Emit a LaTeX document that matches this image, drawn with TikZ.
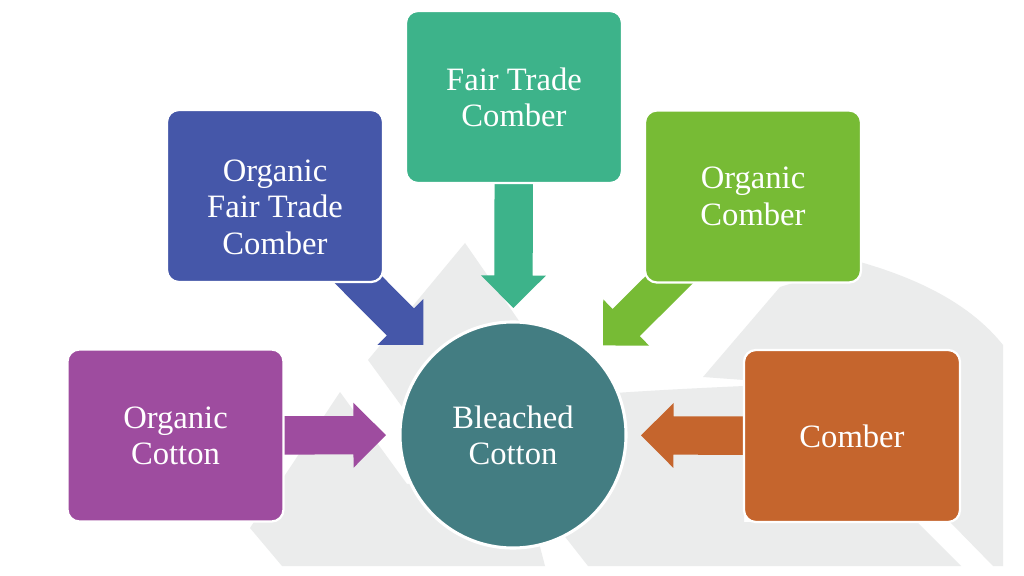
\documentclass[tikz,border=0pt]{standalone}
\usepackage{fontspec}
\setmainfont{Liberation Serif}
\usetikzlibrary{calc}
\pgfdeclarelayer{greylayer}
\pgfdeclarelayer{arrowlayer}
\pgfsetlayers{greylayer,arrowlayer,main}
\definecolor{cblue}{HTML}{4557A9}
\definecolor{cteal}{HTML}{3DB38A}
\definecolor{cgreen}{HTML}{77BB35}
\definecolor{cpurple}{HTML}{9E4C9F}
\definecolor{corange}{HTML}{C5652D}
\definecolor{chub}{HTML}{437D82}
\definecolor{bgrey}{HTML}{EBECEC}
\newcommand{\blockarrow}[3]{%
  \coordinate (ah) at ($(#3)!0.8125cm!(#2)$);
  \fill[#1] ($(#2)!0.48cm!90:(#3)$) -- ($(ah)!0.48cm!-90:(#2)$) -- ($(ah)!0.8125cm!-90:(#2)$) -- (#3)
    -- ($(ah)!0.8125cm!90:(#2)$) -- ($(ah)!0.48cm!90:(#2)$) -- ($(#2)!0.48cm!-90:(#3)$) -- cycle;}
\begin{document}
\begin{tikzpicture}[x=0.025cm,y=-0.025cm,
  box/.style={rectangle, rounded corners=0.3cm, draw=white, line width=1.6pt, text=white,
    align=center, minimum width=5.4cm, minimum height=4.3cm, inner sep=0pt,
    font=\fontsize{23.2}{25.8}\selectfont},
  hub/.style={circle, draw=white, line width=2.2pt, text=white, fill=chub, align=center,
    minimum size=5.65cm, inner sep=0pt, font=\fontsize{23.2}{25.8}\selectfont}]
\useasboundingbox (0,0) rectangle (1024,576);

\node[hub] (hub) at (513,435) {Bleached\\Cotton};
\node[box, fill=cblue] (ofc) at (275,196) {\rule{0pt}{1.1cm}Organic\\Fair Trade\\Comber};
\node[box, fill=cteal] (ftc) at (514,97) {Fair Trade\\Comber};
\node[box, fill=cgreen] (oc) at (753,196.5) {Organic\\Comber};
\node[box, fill=cpurple] (ocot) at (175.5,435.5) {Organic\\Cotton};
\node[box, fill=corange] (comb) at (852,436) {Comber};

\coordinate (t1) at ($(hub.center)!3.175cm!(ofc.center)$);
\coordinate (t2) at ($(hub.center)!3.175cm!(ftc.center)$);
\coordinate (t3) at ($(hub.center)!3.175cm!(oc.center)$);
\coordinate (t4) at ($(hub.center)!3.175cm!(ocot.center)$);
\coordinate (t5) at ($(hub.center)!3.2cm!(comb.center)$);

\begin{pgfonlayer}{arrowlayer}
\blockarrow{cblue}{ofc.center}{t1}
\blockarrow{cteal}{ftc.center}{t2}
\blockarrow{cgreen}{oc.center}{t3}
\blockarrow{cpurple}{ocot.center}{t4}
\blockarrow{corange}{comb.center}{t5}
\end{pgfonlayer}

\begin{pgfonlayer}{greylayer}
\fill[white] (0,0) rectangle (1024,576);
\fill[bgrey] (465,243) -- (560,380) -- (470,500) -- (368,360) -- cycle;
\fill[bgrey] (340,392) -- (250,528) -- (282,566) -- (545,566) -- (520,470) -- (407,484) -- cycle;
\fill[bgrey] (555,385) -- (615,393) .. controls (660,390) and (700,388) .. (744,386)
  -- (744,522) -- (917,522) -- (961,566) -- (588,566) -- (548,515) -- cycle;
\fill[bgrey] (703,377) -- (780,287) -- (860,262) .. controls (930,282) and (975,310) .. (1003,345)
  -- (1003,566) -- (993,566) -- (950,522) -- (744,380) -- cycle;
\end{pgfonlayer}
\end{tikzpicture}
\end{document}
